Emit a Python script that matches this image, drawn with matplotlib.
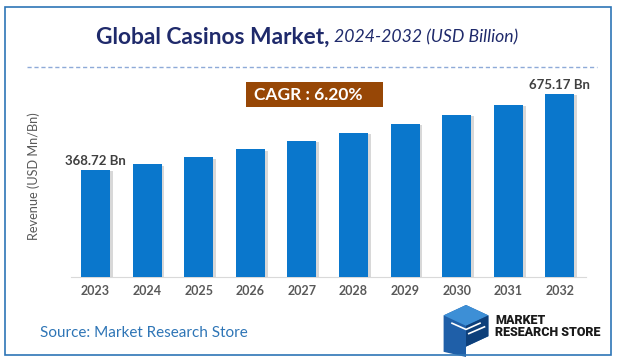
import matplotlib
matplotlib.use('Agg')
import matplotlib.pyplot as plt
import matplotlib.patheffects as pe
from matplotlib.patches import Rectangle, Polygon
from matplotlib.lines import Line2D

plt.rcParams['font.family'] = ['Lato', 'DejaVu Sans']

# Data
years = ['2023', '2024', '2025', '2026', '2027', '2028', '2029', '2030', '2031', '2032']
revenue = [368.72, 391.7, 419.9, 452.2, 485.6, 517.9, 554.2, 590.5, 632.0, 675.17]
first_label = '368.72 Bn'
last_label = '675.17 Bn'
cagr_text = 'CAGR : 6.20%'

W, H = 618, 362
fig = plt.figure(figsize=(W / 100, H / 100), dpi=100)

# outer border
fig.patches.append(Rectangle((5 / W, 7 / H), 606 / W, 348 / H, transform=fig.transFigure,
                             fill=False, edgecolor='#2e75b6', linewidth=1.2))

# title
fig.text(330 / W, 1 - 37 / H, 'Global Casinos Market,', ha='right', va='center',
         fontsize=16.4, fontweight='bold', color='#1f2a6b')
fig.text(334 / W, 1 - 37 / H, '2024-2032 (USD Billion)', ha='left', va='center',
         fontsize=12.7, fontstyle='italic', color='#1f2a6b')

# dashed separator
fig.lines.append(Line2D([27 / W, 597 / W], [1 - 67 / H, 1 - 67 / H], transform=fig.transFigure,
                        color='#8eaad8', linestyle=(0, (3, 2)), linewidth=1))

# bar chart
y0 = -60.7
ax = fig.add_axes([71 / W, 85.5 / H, 514.7 / W, 201.5 / H])
x = list(range(len(years)))
heights = [v - y0 for v in revenue]
bars = ax.bar(x, heights, bottom=y0, width=0.56, color='#0a77cc', zorder=3)
for b in bars:
    b.set_path_effects([pe.SimplePatchShadow(offset=(2, -1), shadow_rgbFace='#7f7f7f', alpha=0.3),
                        pe.Normal()])
ax.set_xlim(-0.475, 9.5)
ax.set_ylim(y0, 751.7)
ax.set_xticks(x)
ax.set_xticklabels(years, fontsize=9, fontweight='bold', color='#595959')
ax.tick_params(axis='x', length=0, pad=6)
ax.set_yticks([])
for s in ['top', 'right', 'left']:
    ax.spines[s].set_visible(False)
ax.spines['bottom'].set_color('#d9d9d9')
ax.set_ylabel('Revenue (USD Mn/Bn)', fontsize=9.2, color='#595959', labelpad=22)

ax.text(0, revenue[0] + 14, first_label, ha='center', va='bottom', fontsize=9.5,
        fontweight='bold', color='#404040')
ax.text(9, revenue[-1] + 14, last_label, ha='center', va='bottom', fontsize=9.5,
        fontweight='bold', color='#404040')

# CAGR box
fig.patches.append(Rectangle((246 / W, 1 - 107 / H), 137 / W, 25 / H, transform=fig.transFigure,
                             facecolor='#974706', edgecolor='none'))
fig.text(308 / W, 1 - 94.5 / H, cagr_text, ha='center', va='center', fontsize=12.5,
         fontweight='bold', color='white')

# source
fig.text(40 / W, 1 - 333 / H, 'Source: Market Research Store', ha='left', va='center',
         fontsize=11, color='#2e75b6')

# logo
logo = fig.add_axes([438 / W, 5 / H, 56 / W, 52 / H])
logo.set_xlim(0, 10)
logo.set_ylim(0, 10)
logo.axis('off')
logo.add_patch(Polygon([[1, 1], [1, 8], [5, 10], [9, 8], [9, 4], [5, 2], [5, 0]], closed=True,
                       facecolor='#1f5fa8', edgecolor='none'))
logo.add_patch(Polygon([[1, 8], [5, 10], [9, 8], [5, 6]], closed=True,
                       facecolor='#3d8fd6', edgecolor='none'))
logo.add_patch(Polygon([[5, 6], [9, 8], [9, 4], [5, 2]], closed=True,
                       facecolor='#0d3f7a', edgecolor='none'))
logo.plot([2.5, 5, 7.5], [6.5, 5.3, 6.5], color='white', linewidth=1.2)
logo.plot([5.5, 8.3], [4.5, 5.8], color='white', linewidth=1.2)
fig.text(495 / W, 1 - 327 / H, 'MARKET\nRESEARCH STORE', ha='left', va='center',
         fontsize=9, fontweight='heavy', color='#1a1a1a', linespacing=0.9,
         family=['Roboto', 'DejaVu Sans'])

fig.savefig('out.png', dpi=100)
